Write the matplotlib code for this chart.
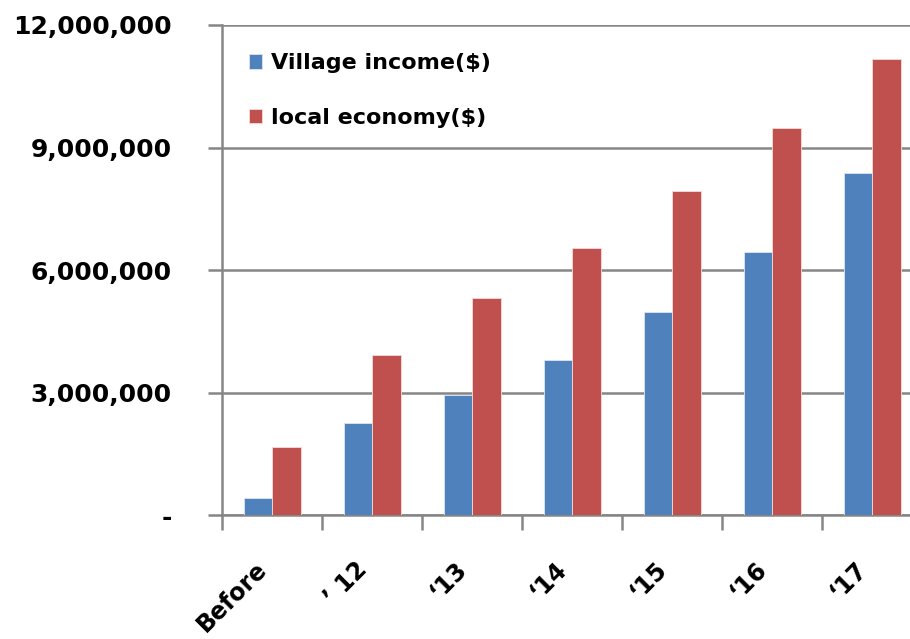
import matplotlib.pyplot as plt
import matplotlib.transforms as mtransforms
import numpy as np
from matplotlib.ticker import FuncFormatter

categories = ['Before', '\u2019 12', '\u201813', '\u201814', '\u201815', '\u201816', '\u201817']
village_income = [420000, 2260000, 2940000, 3800000, 4960000, 6430000, 8380000]
local_economy = [1670000, 3920000, 5320000, 6550000, 7930000, 9480000, 11160000]

plt.rcParams['font.family'] = ['DejaVu Sans']
plt.rcParams['font.weight'] = 'bold'

fig = plt.figure(figsize=(9.1, 6.39), dpi=100)
ax = fig.add_axes([222 / 910, 124 / 639, 688 / 910, 490 / 639])

x = np.arange(len(categories))
w = 0.285
ax.bar(x - w / 2, village_income, w, color='#4F81BD', edgecolor='#DCE6F2', linewidth=0.6,
       label='Village income($)', zorder=3)
ax.bar(x + w / 2, local_economy, w, color='#C0504D', edgecolor='#F2DCDB', linewidth=0.6,
       label='local economy($)', zorder=3)

ax.set_ylim(0, 12000000)
ax.set_xlim(-0.5, 6.38)
ax.set_yticks(np.arange(0, 12000001, 3000000))
ax.yaxis.set_major_formatter(FuncFormatter(lambda v, p: '-' if v == 0 else f'{int(v):,}'))
ax.yaxis.grid(True, color='#868686', linewidth=1.8, zorder=0)
ax.set_axisbelow(True)

ax.set_xticks(np.arange(-0.5, 6.0, 1.0))
ax.set_xticklabels([])
ax.set_xticks(x, minor=True)
ax.set_xticklabels(categories, minor=True, rotation=45, ha='right', va='center',
                   rotation_mode='anchor', fontsize=17, fontweight='bold')
ax.tick_params(axis='x', which='minor', length=0, pad=38)
ax.tick_params(axis='x', which='major', length=11, width=1.8, color='#868686')
ax.tick_params(axis='y', length=10, width=1.8, color='#868686', labelsize=18, pad=26)

shift = mtransforms.ScaledTranslation(-9 / 100, 2 / 100, fig.dpi_scale_trans)
for lbl in ax.get_xticklabels(minor=True):
    lbl.set_transform(lbl.get_transform() + shift)

for s in ['top', 'right']:
    ax.spines[s].set_visible(False)
for s in ['left', 'bottom']:
    ax.spines[s].set_color('#868686')
    ax.spines[s].set_linewidth(1.8)

leg = ax.legend(loc='upper left', bbox_to_anchor=(0.01, 0.983), frameon=False,
                handlelength=0.6, handleheight=0.6, handletextpad=0.4,
                labelspacing=1.55, prop={'weight': 'bold', 'size': 16})

fig.savefig('out.png', dpi=100)
